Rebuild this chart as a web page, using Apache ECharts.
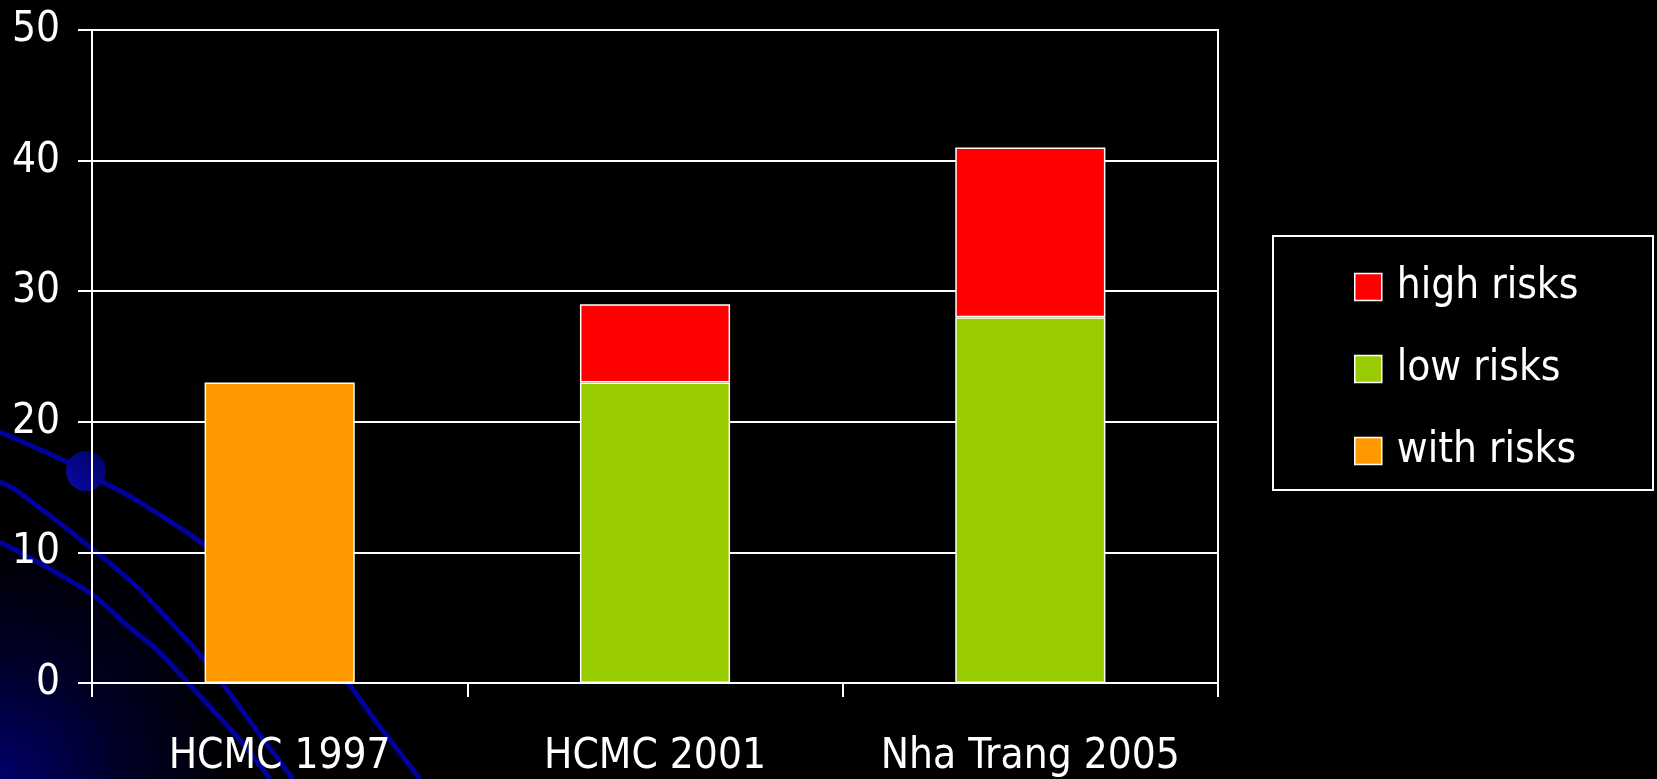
<!DOCTYPE html>
<html>
<head>
<meta charset="utf-8">
<script src="https://cdn.jsdelivr.net/npm/echarts@6/dist/echarts.min.js"></script>
<style>
html,body{margin:0;padding:0;background:#000;}
#chart{width:1657px;height:779px;}
</style>
</head>
<body>
<div id="chart"></div>
<script>
var categories = ['HCMC 1997', 'HCMC 2001', 'Nha Trang 2005'];
var withRisks = [23, '-', '-'];
var lowRisks = ['-', 23, 28];
var highRisks = ['-', 6, 13];
var yTicks = [0, 10, 20, 30, 40, 50];

var FONT = '"Liberation Sans Narrow", "DejaVu Sans Condensed", "Liberation Sans", sans-serif';
var LINE = '#00009c';

var chart = echarts.init(document.getElementById('chart'), null, {renderer: 'canvas'});

function curve(pts) {
  return {
    type: 'polyline', z: -5, silent: true,
    shape: {points: pts, smooth: 0.3},
    style: {stroke: LINE, lineWidth: 5, fill: null}
  };
}

chart.setOption({
  backgroundColor: '#000',
  animation: false,
  graphic: [
    {
      type: 'rect', z: -10, silent: true,
      shape: {x: 0, y: 479, width: 300, height: 300},
      style: {fill: new echarts.graphic.RadialGradient(0, 1, 1, [
        {offset: 0, color: '#000068'},
        {offset: 0.4, color: '#000028'},
        {offset: 0.8, color: '#000000'},
        {offset: 1, color: '#000000'}
      ])}
    },
    curve([[0,432],[67,462],[103,482],[133,498],[202,543],[270,600],[320,650],[348,683],[377,723],[420,779]]),
    curve([[0,482],[13,488],[90,547],[133,583],[150,600],[202,657],[225,687],[260,735],[293,779]]),
    curve([[0,542],[90,593],[130,628],[157,650],[210,707],[240,740],[270,779]]),
    {
      type: 'circle', z: -4, silent: true,
      shape: {cx: 86, cy: 471, r: 20},
      style: {fill: new echarts.graphic.LinearGradient(0, 1, 1, 0, [
        {offset: 0, color: '#0a0aa8'},
        {offset: 1, color: '#000060'}
      ])}
    },
    {
      type: 'rect', z: 1, silent: true,
      shape: {x: 1273, y: 236, width: 380, height: 254},
      style: {fill: '#000', stroke: '#fff', lineWidth: 2}
    }
  ],
  grid: {
    left: 92, right: 439, top: 30, bottom: 96,
    show: true, borderColor: '#fff', borderWidth: 2, backgroundColor: 'transparent'
  },
  legend: {
    orient: 'vertical',
    left: 1349, top: 261,
    itemWidth: 27, itemHeight: 27, itemGap: 40,
    z: 5,
    data: ['high risks', 'low risks', 'with risks'],
    icon: 'rect',
    itemStyle: {borderColor: '#fff', borderWidth: 1.5},
    textStyle: {color: '#fff', fontSize: 42, fontFamily: FONT, padding: [0, 0, 0, 10]}
  },
  xAxis: {
    type: 'category',
    data: categories,
    axisLine: {lineStyle: {color: '#fff', width: 2}},
    axisTick: {show: true, length: 14, lineStyle: {color: '#fff', width: 2}},
    axisLabel: {color: '#fff', fontSize: 42, fontFamily: FONT, margin: 53, interval: 0}
  },
  yAxis: {
    type: 'value',
    min: yTicks[0], max: yTicks[yTicks.length - 1], interval: 10,
    axisLine: {show: true, lineStyle: {color: '#fff', width: 2}},
    axisTick: {show: true, length: 14, lineStyle: {color: '#fff', width: 2}},
    splitLine: {show: true, lineStyle: {color: '#fff', width: 2}},
    axisLabel: {color: '#fff', fontSize: 42, fontFamily: FONT, margin: 32}
  },
  series: [
    {name: 'with risks', type: 'bar', stack: 'total', data: withRisks, barWidth: '40%',
     itemStyle: {color: '#ff9900', borderColor: '#fff', borderWidth: 1.5}},
    {name: 'low risks', type: 'bar', stack: 'total', data: lowRisks, barWidth: '40%',
     itemStyle: {color: '#99cc00', borderColor: '#fff', borderWidth: 1.5}},
    {name: 'high risks', type: 'bar', stack: 'total', data: highRisks, barWidth: '40%',
     itemStyle: {color: '#ff0000', borderColor: '#fff', borderWidth: 1.5}}
  ]
});
</script>
</body>
</html>
